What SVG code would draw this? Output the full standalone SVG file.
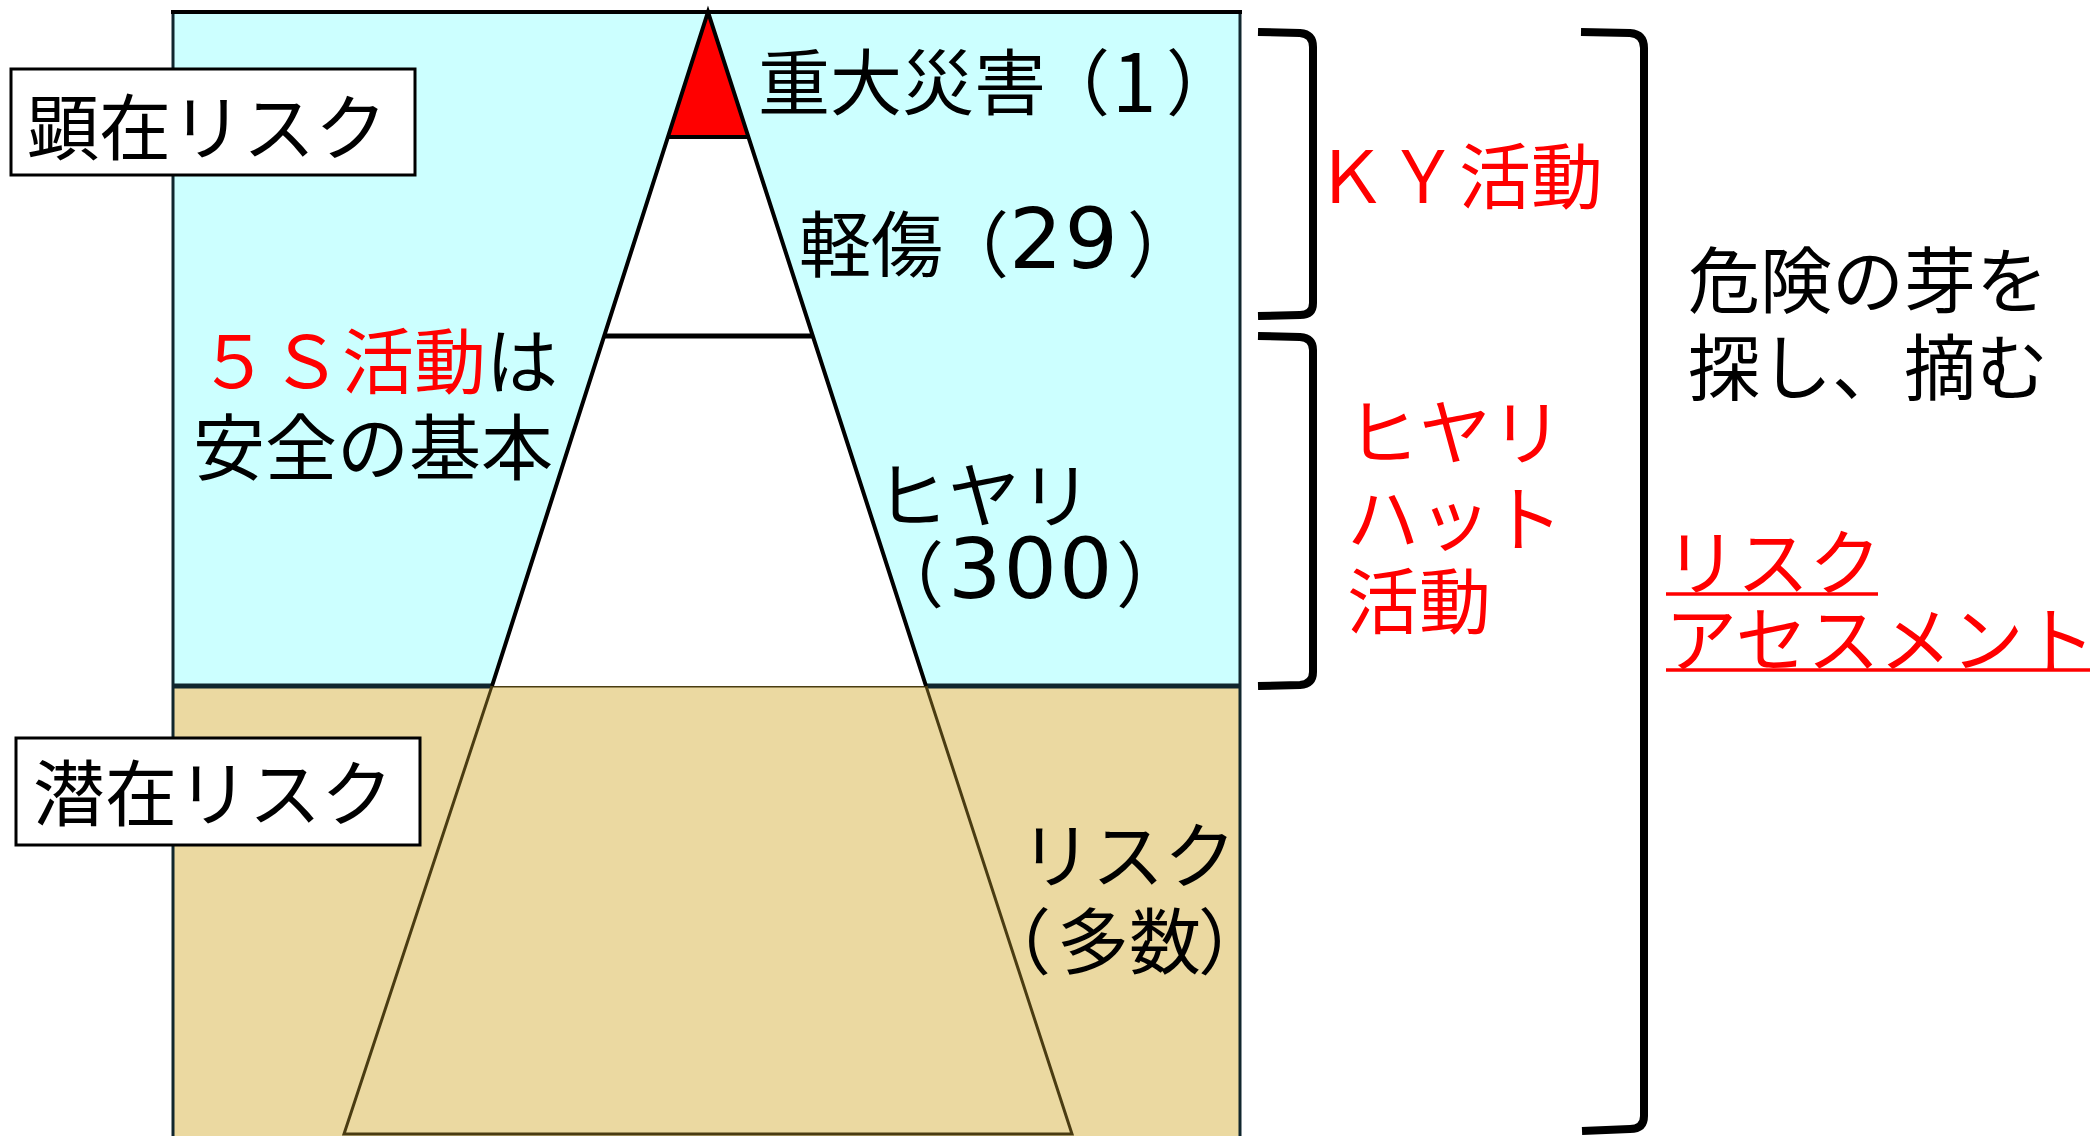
<svg xmlns="http://www.w3.org/2000/svg" width="2092" height="1136" viewBox="0 0 2092 1136">
<style>
text{font-family:"Noto Sans CJK JP","Noto Sans CJK SC",sans-serif;font-size:72px;dominant-baseline:central;fill:#000}
.red{fill:#FF0000}
.mid{text-anchor:middle}
.dg{font-family:"DejaVu Sans",sans-serif;font-size:84px;letter-spacing:2px}
.lbl{fill:#FFFFFF;stroke:#000;stroke-width:3}
.br{fill:none;stroke:#000;stroke-width:8;stroke-linecap:butt;stroke-linejoin:round}
.ul{stroke:#FF0000;stroke-width:3.5}
</style>
<rect x="0" y="0" width="2092" height="1136" fill="#FFFFFF"/>
<g id="panel">
<rect x="173" y="12" width="1067" height="674" fill="#CCFFFF"/>
<rect x="173" y="686" width="1067" height="452" fill="#EBD9A1"/>
<line x1="173" y1="686" x2="1240" y2="686" stroke="#10262e" stroke-width="5"/>
<line x1="173" y1="10" x2="173" y2="1136" stroke="#10262e" stroke-width="3"/>
<line x1="1240" y1="10" x2="1240" y2="1136" stroke="#10262e" stroke-width="3"/>
<line x1="171" y1="12" x2="1242" y2="12" stroke="#000" stroke-width="4"/>
</g>
<g id="pyramid">
<polygon points="492,686 926,686 1072,1134 344,1134" fill="#EBD9A1" stroke="#4a3c12" stroke-width="3"/>
<polygon points="604,336 812,336 926,686 492,686" fill="#FFFFFF"/>
<polygon points="668,137 748,137 812,336 604,336" fill="#FFFFFF"/>
<polygon points="708,14 748,137 668,137" fill="#FF0000"/>
<line x1="668" y1="137" x2="748" y2="137" stroke="#000" stroke-width="4"/>
<line x1="604" y1="336" x2="812" y2="336" stroke="#000" stroke-width="5"/>
<path d="M492,686 L708,12 L926,686" fill="none" stroke="#000" stroke-width="4" stroke-linejoin="miter" stroke-miterlimit="10"/>
</g>
<g id="label-kenzai">
<rect x="11" y="69" width="404" height="106" class="lbl"/>
<text x="207" y="122" class="mid">顕在リスク</text>
</g>
<g id="label-senzai">
<rect x="16" y="738" width="404" height="107" class="lbl"/>
<text x="213" y="788" class="mid">潜在リスク</text>
</g>
<g id="t-juudai"><text x="758" y="77">重大災害<tspan x="1038">（</tspan><tspan x="1112" font-size="80">1</tspan><tspan x="1166">）</tspan></text></g>
<g id="t-keishou"><text x="799" y="239">軽傷<tspan x="937">（</tspan><tspan x="1009" class="dg">29</tspan><tspan x="1127">）</tspan></text></g>
<g id="t-5s">
<text x="378" y="356" class="mid"><tspan class="red">５Ｓ活動</tspan>は</text>
<text x="373" y="442" class="mid">安全の基本</text>
</g>
<g id="t-hiyari">
<text x="984" y="490" class="mid">ヒヤリ</text>
<text x="872" y="569">（<tspan x="948" class="dg">300</tspan><tspan x="1116">）</tspan></text>
</g>
<g id="t-risk">
<text x="1128" y="850" class="mid">リスク</text>
<text x="979" y="936">（<tspan x="1057">多数</tspan><tspan x="1198">）</tspan></text>
</g>
<g id="connectors">
<path class="br" d="M1258,32 L1300,33 Q1313,34 1313,47 V303 Q1313,315 1300,315 L1258,316"/>
<path class="br" d="M1258,336 L1300,337 Q1313,338 1313,350 V672 Q1313,684 1300,685 L1258,686"/>
<path class="br" d="M1581,32 L1630,33 Q1644,34 1644,48 V1116 Q1644,1129 1630,1129 L1582,1131"/>
</g>
<g id="t-ky"><text x="1459" y="171" class="mid red">ＫＹ活動</text></g>
<g id="t-hiyarihatto">
<text x="1347" y="427" class="red">ヒヤリ</text>
<text x="1347" y="513" class="red">ハット</text>
<text x="1347" y="596" class="red">活動</text>
</g>
<g id="t-kiken">
<text x="1688" y="275">危険の芽を</text>
<text x="1688" y="362">探し、摘む</text>
</g>
<g id="t-ra">
<text x="1665" y="557" class="red">リスク</text>
<line x1="1666" y1="594" x2="1878" y2="594" class="ul"/>
<text x="1665" y="634" class="red">アセスメント</text>
<line x1="1666" y1="670" x2="2090" y2="670" class="ul"/>
</g>
</svg>
